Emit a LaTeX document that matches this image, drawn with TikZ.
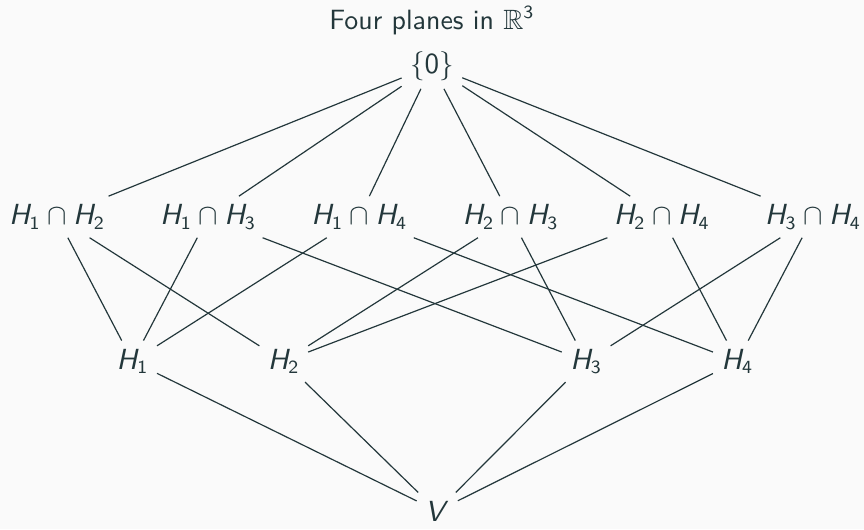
\documentclass[tikz,border=0pt]{standalone}
\usepackage{xcolor}
\definecolor{ink}{HTML}{23373B}
\definecolor{paper}{HTML}{FAFAFA}
\usepackage{amsmath,amssymb}
\usepackage{tikz}
\usetikzlibrary{positioning}
% sans serif letters and digits in math, as on the slides
\DeclareSymbolFont{sfupright}{OT1}{cmss}{m}{n}
\DeclareSymbolFont{sfslanted}{OT1}{cmss}{m}{sl}
\DeclareMathSymbol{H}{\mathalpha}{sfslanted}{`H}
\DeclareMathSymbol{V}{\mathalpha}{sfslanted}{`V}
\DeclareMathSymbol{0}{\mathalpha}{sfupright}{`0}
\DeclareMathSymbol{1}{\mathalpha}{sfupright}{`1}
\DeclareMathSymbol{2}{\mathalpha}{sfupright}{`2}
\DeclareMathSymbol{3}{\mathalpha}{sfupright}{`3}
\DeclareMathSymbol{4}{\mathalpha}{sfupright}{`4}

\begin{document}
\begin{tikzpicture}[
  font=\fontsize{10.5}{12}\selectfont\sffamily,
  elem/.style={text=ink, inner sep=3pt},
  cover/.style={draw=ink, line width=0.45pt}
]
  \fill[paper] (-5.754,-0.238) rectangle (5.675,6.76);
  \useasboundingbox (-5.754,-0.238) rectangle (5.675,6.76);
  \node[text=ink] (title) at (-0.04,6.49) {Four planes in $\mathbb{R}^3$};
  \node[elem] (Z) at (-0.04,5.89) {$\{0\}$};
  % intersections of two planes
  \node[elem] (H12) at (-5,3.89) {$H_1\cap H_2$};
  \node[elem] (H13) at (-3,3.89) {$H_1\cap H_3$};
  \node[elem] (H14) at (-1,3.89) {$H_1\cap H_4$};
  \node[elem] (H23) at (1,3.89) {$H_2\cap H_3$};
  \node[elem] (H24) at (3,3.89) {$H_2\cap H_4$};
  \node[elem] (H34) at (5,3.89) {$H_3\cap H_4$};
  % the planes
  \node[elem] (H1) at (-4,1.98) {$H_1$};
  \node[elem] (H2) at (-2,1.98) {$H_2$};
  \node[elem] (H3) at (2,1.98) {$H_3$};
  \node[elem] (H4) at (4,1.98) {$H_4$};
  \node[elem] (V) at (0.03,0) {$V$};
  \foreach \a in {12,13,14,23,24,34}
    \draw[cover] (Z) -- (H\a);
  \foreach \a/\b in {12/1,12/2,13/1,13/3,14/1,14/4,23/2,23/3,24/2,24/4,34/3,34/4}
    \draw[cover] (H\a) -- (H\b);
  \foreach \b in {1,2,3,4}
    \draw[cover] (H\b) -- (V);
\end{tikzpicture}
\end{document}
